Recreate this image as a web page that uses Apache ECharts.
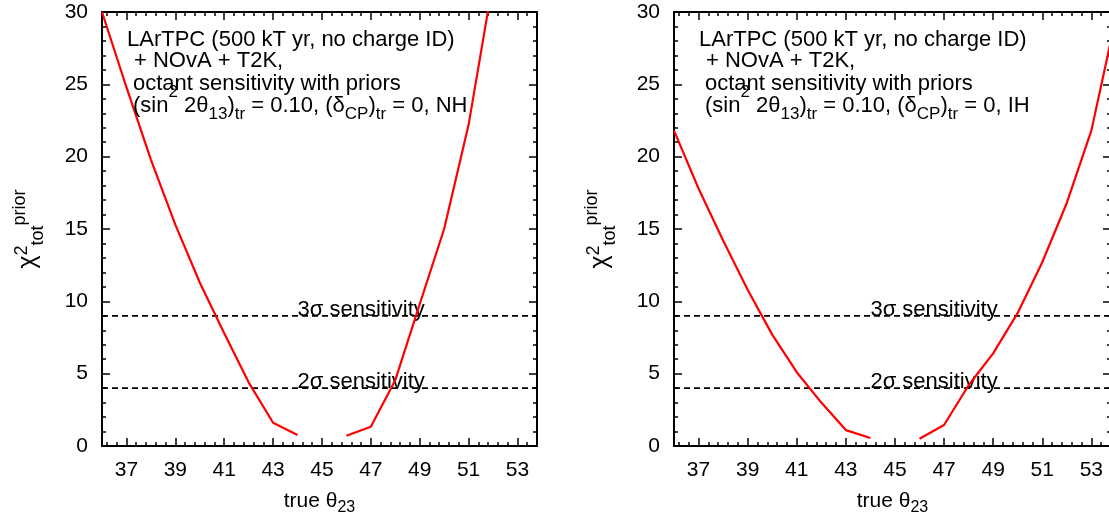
<!DOCTYPE html>
<html><head><meta charset="utf-8">
<script src="https://cdn.jsdelivr.net/npm/echarts@6/dist/echarts.min.js"></script>
<style>html,body{margin:0;padding:0;background:#fff}#c{width:1109px;height:518px}</style>
</head><body><div id="c"></div>
<script>
// ---- data ----
const thetaTrue = [36, 37, 38, 39, 40, 41, 42, 43, 44, 45, 46, 47, 48, 49, 50, 51, 52, 53, 54];
const chiNH = [30, 24.8, 19.8, 15.3, 11.3, 7.8, 4.4, 1.61, 0.76, null, 0.71, 1.33, 4.55, 9.8, 15.0, 22.2, 32.1, null, null];
const chiIH = [21.8, 17.8, 14.2, 10.8, 7.7, 5.1, 3.0, 1.1, 0.55, null, 0.5, 1.45, 4.2, 6.4, 9.2, 12.7, 16.8, 21.8, 29.6];
const hierarchies = ['NH', 'IH'];
const sigmaLevels = [9, 4];
const sigmaLabels = ['3σ sensitivity', '2σ sensitivity'];
const sigmaLabelX = [44, 44];
const sigmaLabelY = [9.5, 4.5];
const xMajorTicks = [37, 39, 41, 43, 45, 47, 49, 51, 53];
const yTickLabels = [0, 5, 10, 15, 20, 25, 30];
const annotLines = [
  '{n|LArTPC (500 kT yr, no charge ID)}',
  '{n|+ NOvA + T2K,}',
  '{n|octant sensitivity with priors}',
  '{n|(sin}{sup|2}{n| 2θ}{sub|13}{n|)}{sub|tr}{n| = 0.10, (δ}{sub|CP}{n|)}{sub|tr}{n| = 0, HIER}'
];

// ---- layout / style ----
const FONT = 'Liberation Sans, Arial, Helvetica, sans-serif';
const X_MIN = 36, X_MAX = 53.8;
const xMinorTicks = [];
for (let k = 0; k < 60; k++) {
  const v = Math.round((36.2 + 0.4 * k) * 10) / 10;
  if (v > X_MAX) break;
  if (xMajorTicks.indexOf(v) < 0) xMinorTicks.push(v);
}
const grids = [
  {left: 102, top: 12, width: 435, height: 434, outerBoundsMode: 'none', containLabel: false},
  {left: 674, top: 12, width: 437, height: 434, outerBoundsMode: 'none', containLabel: false}
];
const lineS = {color: '#000', width: 2};
const tickS = {color: '#000', width: 1.5};

const xAxis = [], yAxis = [], series = [], graphic = [];
grids.forEach((g, gi) => {
  ['bottom', 'top'].forEach(pos => {
    xAxis.push({
      gridIndex: gi, type: 'value', min: X_MIN, max: X_MAX, position: pos,
      axisLine: {show: true, onZero: false, lineStyle: lineS},
      axisTick: {show: true, inside: true, length: 8, customValues: xMajorTicks, lineStyle: tickS},
      axisLabel: {show: pos === 'bottom', customValues: xMajorTicks, margin: 14, color: '#000', fontSize: 21, fontFamily: FONT},
      splitLine: {show: false},
      name: pos === 'bottom' ? '{n|true θ}{sub|23}' : '',
      nameLocation: 'middle', nameGap: 43,
      nameTextStyle: {rich: {
        n: {fontSize: 21, lineHeight: 24, fontFamily: FONT, color: '#000', verticalAlign: 'middle'},
        sub: {fontSize: 16, lineHeight: 24, fontFamily: FONT, color: '#000', verticalAlign: 'middle', padding: [14, 0, 0, 0]}
      }}
    });
    xAxis.push({
      gridIndex: gi, type: 'value', min: X_MIN, max: X_MAX, position: pos,
      axisLine: {show: false, onZero: false},
      axisTick: {show: true, inside: true, length: 4, customValues: xMinorTicks, lineStyle: tickS},
      axisLabel: {show: false}, splitLine: {show: false}
    });
  });
  ['left', 'right'].forEach(pos => {
    yAxis.push({
      gridIndex: gi, type: 'value', min: 0, max: 30, interval: 5, position: pos,
      axisLine: {show: true, onZero: false, lineStyle: lineS},
      axisTick: {show: true, inside: true, length: 8, lineStyle: tickS},
      minorTick: {show: true, splitNumber: 5, length: 4, lineStyle: tickS},
      axisLabel: {show: pos === 'left', margin: 14, color: '#000', fontSize: 21, fontFamily: FONT,
        formatter: v => yTickLabels.indexOf(v) >= 0 ? String(v) : ''},
      splitLine: {show: false}, minorSplitLine: {show: false},
      name: pos === 'left' ? '{n|χ}{sup|2}{sub|tot}{sup2|prior}' : '',
      nameLocation: 'middle', nameRotate: 90, nameGap: 60,
      nameTextStyle: {rich: {
        n: {fontSize: 25, lineHeight: 28, fontFamily: FONT, color: '#000', verticalAlign: 'middle'},
        sup: {fontSize: 18, lineHeight: 28, fontFamily: FONT, color: '#000', verticalAlign: 'middle', padding: [0, 0, 12, 0]},
        sub: {fontSize: 18, lineHeight: 28, fontFamily: FONT, color: '#000', verticalAlign: 'middle', padding: [20, 0, 0, 0]},
        sup2: {fontSize: 18, lineHeight: 28, fontFamily: FONT, color: '#000', verticalAlign: 'middle', padding: [0, 0, 16, 0]}
      }}
    });
  });
  const xi = gi * 4, yi = gi * 2;
  const chi = gi === 0 ? chiNH : chiIH;
  sigmaLevels.forEach((lv, li) => {
    series.push({
      type: 'line', xAxisIndex: xi, yAxisIndex: yi, data: [[X_MIN, lv], [X_MAX, lv]],
      showSymbol: false, silent: true, z: 2,
      lineStyle: {color: '#000', width: 1.8, type: [6, 4]}
    });
    series.push({
      type: 'scatter', xAxisIndex: xi, yAxisIndex: yi, data: [[sigmaLabelX[li], sigmaLabelY[li]]],
      symbolSize: 0, silent: true, z: 3,
      label: {show: true, position: 'right', distance: 0, offset: [0, 1], formatter: sigmaLabels[li],
        color: '#000', opacity: 1, textBorderWidth: 0, fontSize: 22, fontFamily: FONT}
    });
  });
  series.push({
    type: 'line', xAxisIndex: xi, yAxisIndex: yi,
    data: thetaTrue.map((t, i) => [t, chi[i] === null ? '-' : chi[i]]),
    showSymbol: false, connectNulls: false, clip: true, z: 5,
    lineStyle: {color: '#ff0000', width: 2.2}
  });
  const richA = {
    n: {fontSize: 22, lineHeight: 24, fontFamily: FONT, fill: '#000', verticalAlign: 'middle'},
    sub: {fontSize: 17, lineHeight: 24, fontFamily: FONT, fill: '#000', verticalAlign: 'middle', padding: [17, 0, 0, 0]},
    sup: {fontSize: 17, lineHeight: 24, fontFamily: FONT, fill: '#000', verticalAlign: 'middle', padding: [0, 0, 26, 0]}
  };
  const ys = [39.5, 61, 84, 105.5];
  const xs = [25, 32, 31, 31];
  annotLines.forEach((s, li) => {
    graphic.push({
      type: 'text', x: g.left + xs[li], y: ys[li], silent: true, z: 10,
      style: {text: s.replace('HIER', hierarchies[gi]), rich: richA, fill: '#000',
        fontSize: 22, fontFamily: FONT, align: 'left', verticalAlign: 'middle'}
    });
  });
});

const chart = echarts.init(document.getElementById('c'), null, {renderer: 'canvas'});
chart.setOption({
  animation: false,
  backgroundColor: '#fff',
  grid: grids,
  xAxis: xAxis,
  yAxis: yAxis,
  series: series,
  graphic: graphic
});
</script>
</body></html>
